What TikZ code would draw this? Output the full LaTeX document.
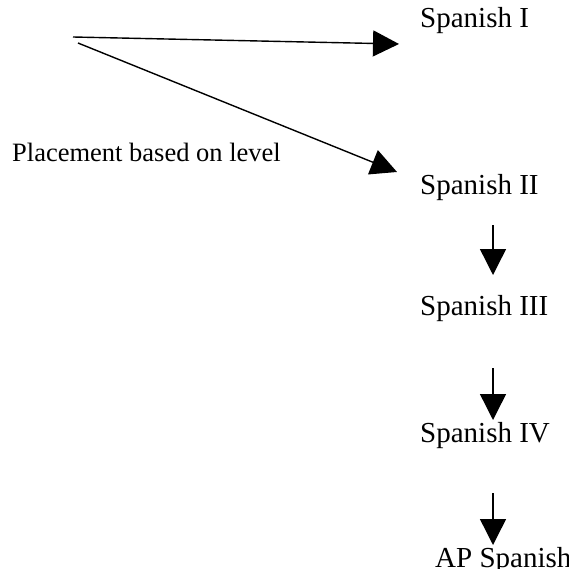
\documentclass[tikz,border=0pt]{standalone}
\usepackage{fontspec}
\setmainfont{Liberation Serif}
\usetikzlibrary{arrows.meta}
\begin{document}
\begin{tikzpicture}[x=1pt,y=-1pt,
  lbl/.style={anchor=base west,inner sep=0pt,font=\fontsize{29}{34}\selectfont},
  side/.style={anchor=base west,inner sep=0pt,font=\fontsize{26.5}{31}\selectfont},
  arr/.style={line width=1.4pt,-{Triangle[length=26pt,width=26pt]}}]
\useasboundingbox (0,0) rectangle (569,569);
\node[lbl] (s1) at (420,28) {Spanish I};
\node[lbl] (s2) at (420,195) {Spanish II};
\node[lbl] (s3) at (420,315) {Spanish III};
\node[lbl] (s4) at (420,442) {Spanish IV};
\node[lbl] (ap) at (435,567) {AP Spanish};
\node[side] (pl) at (12,162) {Placement based on level};
\coordinate (o1) at (73,37);
\coordinate (o2) at (78,43);
\coordinate (t1) at (399,44);
\coordinate (t2) at (397,172);
\coordinate (a1) at (493,225);
\coordinate (b1) at (493,275);
\coordinate (a2) at (493,368);
\coordinate (b2) at (493,420);
\coordinate (a3) at (493,493);
\coordinate (b3) at (493,545);
\draw[arr] (o1) -- (t1);
\draw[arr] (o2) -- (t2);
\draw[arr] (a1) -- (b1);
\draw[arr] (a2) -- (b2);
\draw[arr] (a3) -- (b3);
\end{tikzpicture}
\end{document}
